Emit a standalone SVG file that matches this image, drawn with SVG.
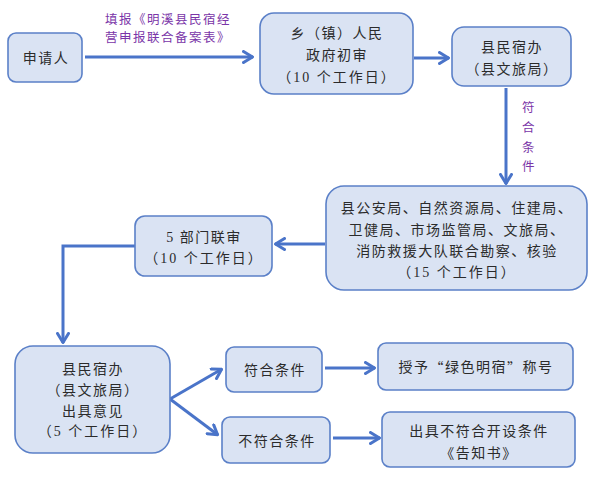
<svg xmlns="http://www.w3.org/2000/svg" width="598" height="479" viewBox="0 0 598 479">
<defs>
<style>
.box{fill:#dae3f3;stroke:#5b80c8;stroke-width:1.6}
.t{font-family:"Liberation Serif","Noto Sans CJK SC",serif;font-size:14px;fill:#2b2b2b;text-anchor:middle;dominant-baseline:central;letter-spacing:1.5px}
.lab{font-family:"Liberation Serif","Noto Sans CJK SC",serif;font-size:12.5px;fill:#7a35a8;text-anchor:middle;dominant-baseline:central;letter-spacing:1.5px}
.cjk{font-family:"Noto Sans CJK SC",sans-serif}
.c{fill:none;stroke:#4a74c9;stroke-width:3;marker-end:url(#ah)}
</style>
<marker id="ah" viewBox="0 0 12 14" refX="11" refY="7" markerWidth="12" markerHeight="14" markerUnits="userSpaceOnUse" orient="auto">
<path d="M1.5,1.5 L10.5,7 L1.5,12.5" fill="none" stroke="#4a74c9" stroke-width="3" stroke-linecap="round" stroke-linejoin="round"/>
</marker>
</defs>
<rect width="598" height="479" fill="#ffffff"/>
<g id="connectors">
<line class="c" x1="85" y1="57" x2="253" y2="57"/>
<line class="c" x1="414" y1="58" x2="449" y2="58"/>
<line class="c" x1="506" y1="88" x2="506" y2="184"/>
<line class="c" x1="325" y1="244" x2="275" y2="244"/>
<polyline class="c" points="135,246 63,246 63,343"/>
<line class="c" x1="170" y1="399" x2="222" y2="369"/>
<line class="c" x1="170" y1="399" x2="218" y2="435"/>
<line class="c" x1="325" y1="368" x2="375" y2="368"/>
<line class="c" x1="333" y1="438" x2="380" y2="438"/>
<text class="lab" x="168" y="20">填报《明溪县民宿经</text>
<text class="lab" x="168" y="38">营申报联合备案表》</text>
<text class="lab" x="529" y="108">符</text>
<text class="lab" x="529" y="128">合</text>
<text class="lab" x="529" y="148">条</text>
<text class="lab" x="529" y="167">件</text>
</g>
<g id="n-applicant">
<rect class="box" x="8" y="33" width="74" height="49" rx="8"/>
<text class="t" x="46" y="58">申请人</text>
</g>
<g id="n-town">
<rect class="box" x="260" y="13" width="153" height="81" rx="14"/>
<text class="t" x="337" y="33">乡（镇）人民</text>
<text class="t" x="337" y="55">政府初审</text>
<text class="t" x="337" y="77" style="letter-spacing:2px">（10 个工作日）</text>
</g>
<g id="n-county1">
<rect class="box" x="452" y="27" width="119" height="59" rx="12"/>
<text class="t" x="512" y="47">县民宿办</text>
<text class="t" x="512" y="69">（县文旅局）</text>
</g>
<g id="n-joint">
<rect class="box" x="326" y="186" width="261" height="104" rx="18"/>
<text class="t" x="457" y="208">县公安局、自然资源局、住建局、</text>
<text class="t" x="457" y="230">卫健局、市场监管局、文旅局、</text>
<text class="t" x="457" y="251">消防救援大队联合勘察、核验</text>
<text class="t" x="457" y="272" style="letter-spacing:2px">（15 个工作日）</text>
</g>
<g id="n-five">
<rect class="box" x="135" y="216" width="137" height="60" rx="10"/>
<text class="t" x="204" y="237">5 部门联审</text>
<text class="t" x="204" y="258" style="letter-spacing:2px">（10 个工作日）</text>
</g>
<g id="n-county2">
<rect class="box" x="15" y="346" width="155" height="107" rx="18"/>
<text class="t" x="93" y="369">县民宿办</text>
<text class="t" x="93" y="390">（县文旅局）</text>
<text class="t" x="93" y="411">出具意见</text>
<text class="t" x="93" y="431" style="letter-spacing:2px">（5 个工作日）</text>
</g>
<g id="n-ok">
<rect class="box" x="226" y="347" width="96" height="45" rx="8"/>
<text class="t" x="275" y="370">符合条件</text>
</g>
<g id="n-notok">
<rect class="box" x="222" y="417" width="108" height="46" rx="8"/>
<text class="t" x="277" y="441">不符合条件</text>
</g>
<g id="n-grant">
<rect class="box" x="378" y="343" width="195" height="47" rx="8"/>
<text class="t" x="476" y="367">授予<tspan class="cjk">“</tspan>绿色明宿<tspan class="cjk">”</tspan>称号</text>
</g>
<g id="n-notice">
<rect class="box" x="382" y="412" width="193" height="55" rx="8"/>
<text class="t" x="479" y="431">出具不符合开设条件</text>
<text class="t" x="479" y="453">《告知书》</text>
</g>
</svg>
